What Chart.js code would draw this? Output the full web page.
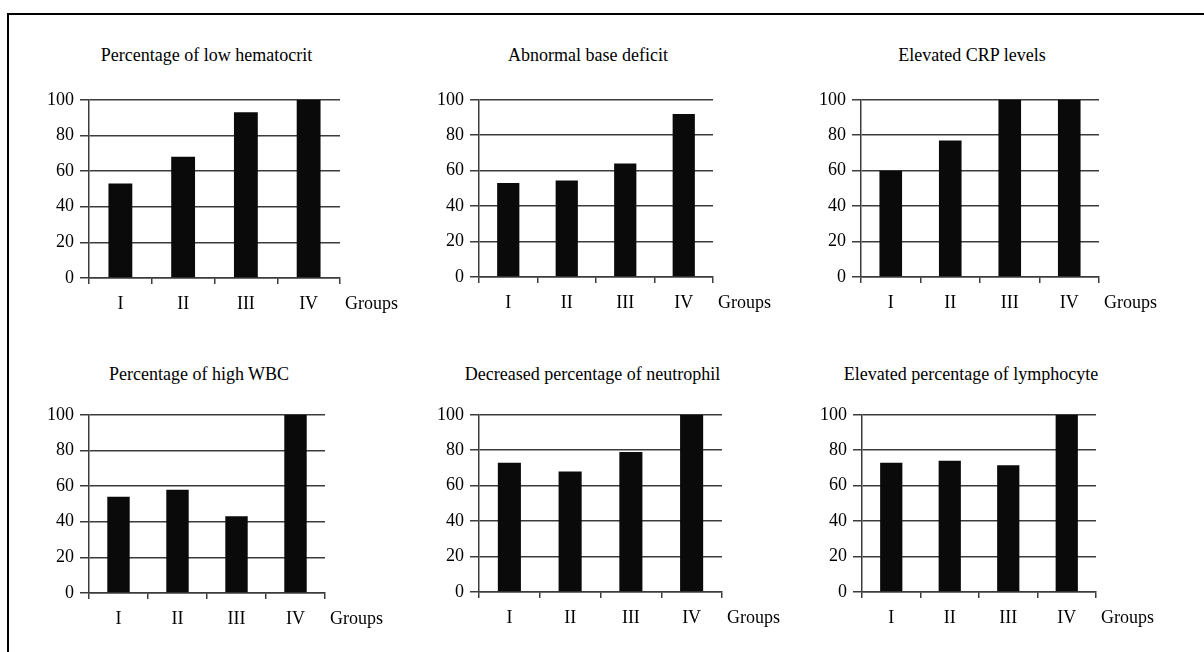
<!DOCTYPE html>
<html>
<head>
<meta charset="utf-8">
<script src="https://cdn.jsdelivr.net/npm/chart.js@4.4.1/dist/chart.umd.min.js"></script>
<style>
  body { margin: 0; background: #fff; width: 1204px; height: 652px; overflow: hidden; position: relative; font-family: 'Liberation Serif', 'Times New Roman', serif; }
  .frame { position: absolute; left: 7px; top: 13px; width: 1200px; height: 650px; border-left: 2px solid #000; border-top: 2px solid #000; }
  canvas { position: absolute; }
  .title, .groups { position: absolute; font-size: 18px; color: #000; white-space: nowrap; line-height: 20px; }
  .title { transform: translate(-50%, -50%); }
  .groups { transform: translateY(-50%); }
</style>
</head>
<body>
<div class="frame"></div>
<script>
// data
const groups = ['I', 'II', 'III', 'IV'];
const hematocrit = [53, 68, 93, 100];
const baseDeficit = [53, 54.5, 64, 92];
const crp = [60, 77, 100, 100];
const wbc = [54, 58, 43, 100];
const neutrophil = [73, 68, 79, 100];
const lymphocyte = [73, 74, 71.5, 100];
const yTicks = [0, 20, 40, 60, 80, 100];
const titles = [
  'Percentage of low hematocrit',
  'Abnormal base deficit',
  'Elevated CRP levels',
  'Percentage of high WBC',
  'Decreased percentage of neutrophil',
  'Elevated percentage of lymphocyte'
];
const series = [hematocrit, baseDeficit, crp, wbc, neutrophil, lymphocyte];

// plot boxes: left, top, right, bottom of the chart area
const boxes = [
  [89, 98, 340, 278],
  [479, 98, 713, 277],
  [861, 98, 1099, 277],
  [89, 413, 325, 593],
  [479, 413, 722, 592],
  [862, 413, 1096, 592]
];
const titleY = [55, 55, 55, 374, 374, 374];

const Y_W = 60, X_H = 45, PAD_T = 15, PAD_R = 6;
const lineCol = '#3c3c3c';
const font = { family: "'Liberation Serif', 'Times New Roman', serif", size: 18 };

boxes.forEach((b, i) => {
  const [l, t, r, bt] = b;
  const cv = document.createElement('canvas');
  const left = l - Y_W, top = t - PAD_T;
  const w = r - left + PAD_R, h = bt - top + X_H;
  cv.width = w; cv.height = h;
  cv.style.left = left + 'px'; cv.style.top = top + 'px';
  cv.style.width = w + 'px'; cv.style.height = h + 'px';
  document.body.appendChild(cv);

  const tt = document.createElement('div');
  tt.className = 'title';
  tt.textContent = titles[i];
  tt.style.left = ((l + r) / 2 - 8) + 'px';
  tt.style.top = titleY[i] + 'px';
  document.body.appendChild(tt);

  const g = document.createElement('div');
  g.className = 'groups';
  g.textContent = 'Groups';
  g.style.left = (r + 5) + 'px';
  g.style.top = (bt + 25) + 'px';
  document.body.appendChild(g);

  new Chart(cv, {
    type: 'bar',
    data: {
      labels: groups,
      datasets: [{
        data: series[i],
        backgroundColor: '#0a0a0a',
        borderWidth: 0,
        barPercentage: 0.38,
        categoryPercentage: 1
      }]
    },
    options: {
      responsive: false,
      animation: false,
      devicePixelRatio: 1,
      layout: { padding: { top: PAD_T, right: PAD_R, left: 0, bottom: 0 } },
      plugins: { legend: { display: false }, tooltip: { enabled: false } },
      scales: {
        x: {
          offset: true,
          grid: { offset: true, drawOnChartArea: false, drawTicks: true, tickLength: 6, color: lineCol, lineWidth: 1.5 },
          border: { display: true, color: lineCol, width: 1.5 },
          ticks: { color: '#000', font: font, padding: 9, maxRotation: 0 },
          afterFit: s => { s.height = X_H; }
        },
        y: {
          min: 0, max: 100,
          afterBuildTicks: s => { s.ticks = yTicks.map(v => ({ value: v })); },
          grid: { color: lineCol, lineWidth: 1.5, tickLength: 9 },
          border: { display: true, color: lineCol, width: 1.5 },
          ticks: { color: '#000', font: font, padding: 6 },
          afterFit: s => { s.width = Y_W; }
        }
      }
    }
  });
});
</script>
</body>
</html>
